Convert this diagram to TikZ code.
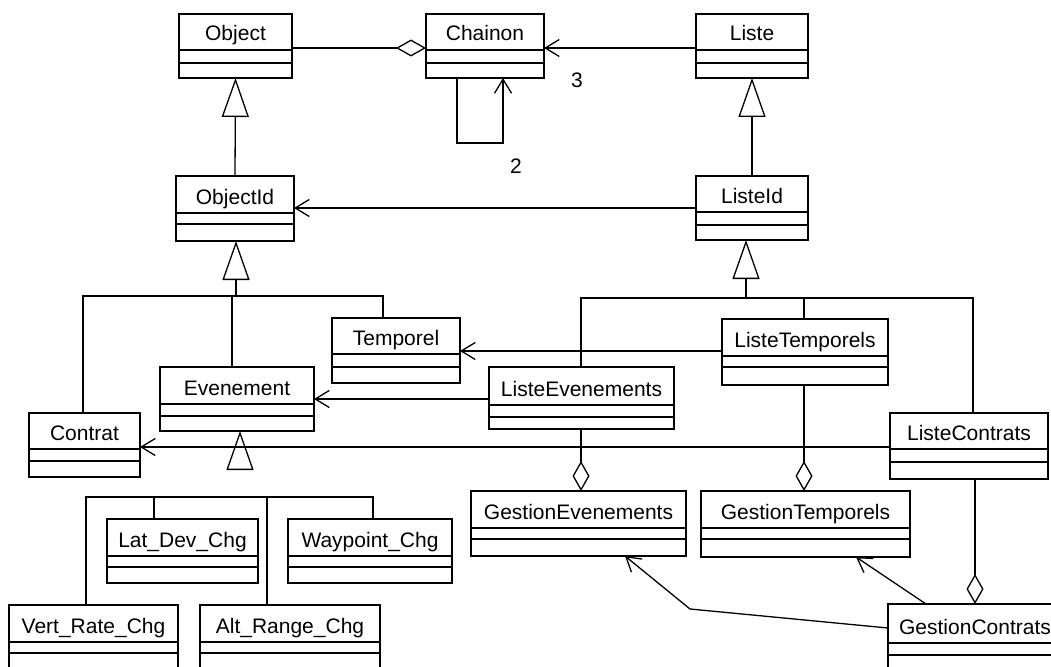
\documentclass[tikz,border=0pt]{standalone}
\usepackage{fontspec}
\setmainfont{Liberation Sans}
\usetikzlibrary{arrows.meta}
\tikzset{
  line/.style={draw=black, line width=1.3pt, line join=miter},
  cls/.style={draw=black, line width=1.3pt, rectangle, inner sep=0pt, outer sep=0pt},
  lbl/.style={inner sep=0pt, font=\fontsize{21}{25}\selectfont},
  barb/.style={-{Straight Barb[length=14pt,width=17pt]}},
  gen/.style={-{Triangle[open,length=39pt,width=27pt]}},
  agg/.style={-{Diamond[open,length=30pt,width=17pt]}}
}
\newcommand\umlclass[8]{%
  \node[cls, anchor=north west, minimum width={(#4-#2)*1pt}, minimum height={(#5-#3)*1pt}] (#1) at (#2,#3) {};
  \draw[line] (#2,#6) -- (#4,#6) (#2,#7) -- (#4,#7);
  \node[lbl, anchor=base] (#1-name) at ({(#2+#4)/2},{#6-9}) {#8};
}
\begin{document}
\begin{tikzpicture}[x=1pt,y=-1pt]
\useasboundingbox (0,0) rectangle (1051,666);
\fill[white] (0,0) rectangle (1051,666);
\clip (0,0) rectangle (1051,666);
% classes
\umlclass{object}{179}{14}{292}{78}{50}{63}{Object}
\umlclass{chainon}{426}{14}{544}{78}{50}{63}{Chainon}
\umlclass{liste}{696}{14}{808}{78}{50}{63}{Liste}
\umlclass{objectid}{176}{176}{294}{241}{213}{224}{ObjectId}
\umlclass{listeid}{696}{176}{808}{240}{212}{225}{ListeId}
\umlclass{temporel}{332}{318}{460}{383}{354}{367}{Temporel}
\umlclass{evenement}{160}{367}{314}{431}{404}{416}{Evenement}
\umlclass{contrat}{29}{413}{140}{477}{449}{461}{Contrat}
\umlclass{listeevenements}{489}{367}{674}{429}{405}{417}{ListeEvenements}
\umlclass{listetemporels}{722}{319}{888}{385}{356}{367}{ListeTemporels}
\umlclass{listecontrats}{890}{413}{1048}{479}{449}{462}{ListeContrats}
\umlclass{gestionevenements}{471}{491}{686}{556}{528}{539}{GestionEvenements}
\umlclass{gestiontemporels}{701}{491}{910}{557}{528}{539}{GestionTemporels}
\umlclass{gestioncontrats}{888}{604}{1062}{700}{643}{655}{GestionContrats}
\umlclass{latdev}{107}{519}{258}{583}{556}{567}{Lat\_Dev\_Chg}
\umlclass{waypoint}{288}{519}{452}{583}{556}{567}{Waypoint\_Chg}
\umlclass{vertrate}{9}{605}{178}{700}{642}{653}{Vert\_Rate\_Chg}
\umlclass{altrange}{200}{605}{380}{700}{642}{653}{Alt\_Range\_Chg}
% top associations
\draw[line, agg] (object.east |- 0,48) -- (chainon.west |- 0,48);
\draw[line, barb] (liste.west |- 0,48) -- (chainon.east |- 0,48);
\draw[line, barb] (chainon.south -| 457,0) -- (457,143) -- (503,143) -- (chainon.south -| 503,0);
\node[lbl] (mult2) at (516,166) {2};
\node[lbl] (mult3) at (577,80) {3};
% generalizations top
\draw[line, gen] (objectid.north) -- (object.south);
\draw[line, gen] (listeid.north) -- (liste.south);
\draw[line, barb] (listeid.west |- 0,208) -- (objectid.east |- 0,208);
% ObjectId subtree
\draw[line, gen] (236,296) -- (objectid.south -| 236,0);
\draw[line] (contrat.north -| 83,0) -- (83,296) -- (383,296) -- (temporel.north -| 383,0);
\draw[line] (232,296) -- (evenement.north -| 232,0);
% ListeId subtree
\draw[line, gen] (746,298) -- (listeid.south -| 746,0);
\draw[line] (listeevenements.north -| 581,0) -- (581,298) -- (973,298) -- (listecontrats.north -| 973,0);
\draw[line] (804,298) -- (listetemporels.north -| 804,0);
% associations to base classes
\draw[line, barb] (listetemporels.west |- 0,351) -- (temporel.east |- 0,351);
\draw[line, barb] (listeevenements.west |- 0,399) -- (evenement.east |- 0,399);
\draw[line, barb] (listecontrats.west |- 0,447) -- (contrat.east |- 0,447);
% aggregations
\draw[line, agg] (listeevenements.south -| 581,0) -- (gestionevenements.north -| 581,0);
\draw[line, agg] (listetemporels.south -| 804,0) -- (gestiontemporels.north -| 804,0);
\draw[line, agg] (listecontrats.south -| 975,0) -- (gestioncontrats.north -| 975,0);
% dependencies
\draw[line, barb] (gestioncontrats.west |- 0,628) -- (690,609) -- (gestionevenements.south -| 625,0);
\draw[line, barb] (gestioncontrats.north -| 926,0) -- (gestiontemporels.south -| 856,0);
% Evenement subtree
\draw[line, gen] (240,469) -- (evenement.south -| 240,0);
\draw[line] (vertrate.north -| 86,0) -- (86,497) -- (373,497) -- (waypoint.north -| 373,0);
\draw[line] (154,497) -- (latdev.north -| 154,0);
\draw[line] (267,497) -- (altrange.north -| 267,0);
\end{tikzpicture}
\end{document}
